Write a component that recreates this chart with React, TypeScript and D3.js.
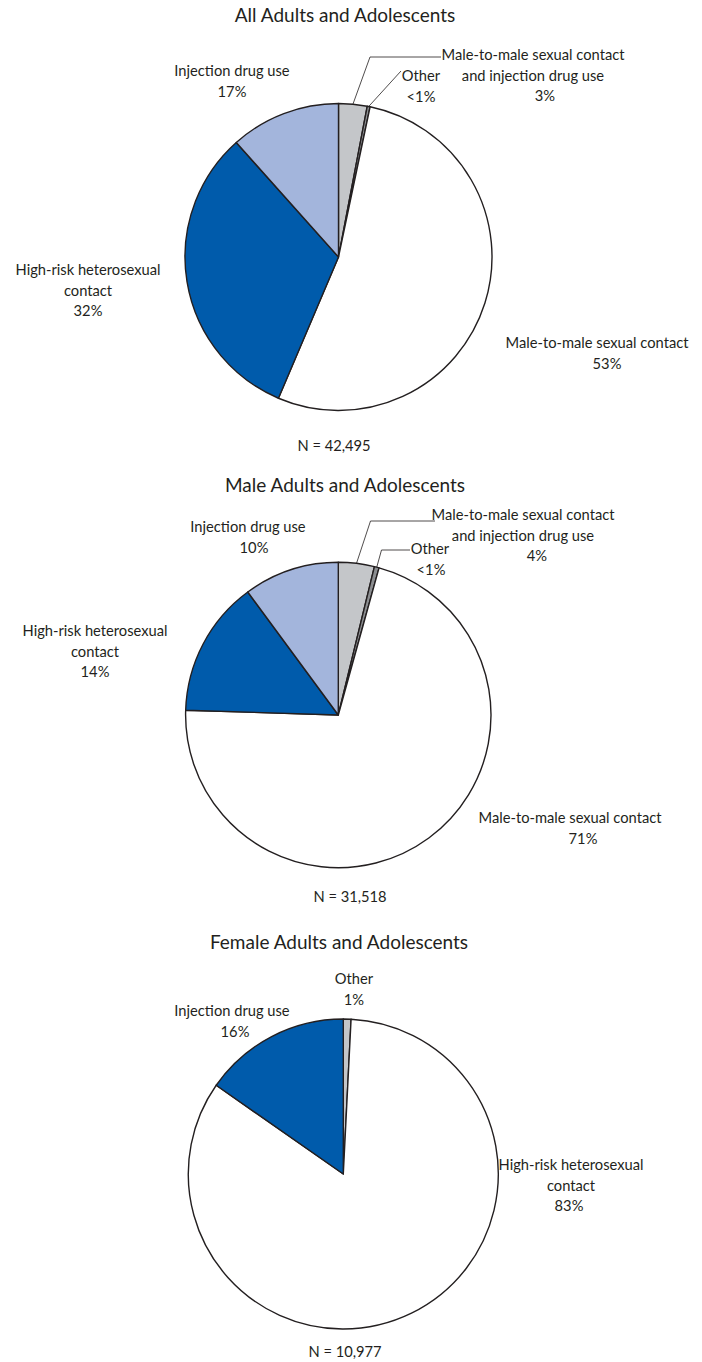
import React, { useRef, useEffect } from "react";
import * as d3 from "d3";

// slice order is clockwise from 12 o'clock
const allCategories = [
  "Male-to-male sexual contact and injection drug use",
  "Other",
  "Male-to-male sexual contact",
  "High-risk heterosexual contact",
  "Injection drug use",
];
const allValues = [3.0, 0.3, 53.1, 32.0, 11.6];
const allPct = ["3%", "<1%", "53%", "32%", "17%"];

const maleCategories = allCategories;
const maleValues = [3.8, 0.5, 71.2, 14.4, 10.1];
const malePct = ["4%", "<1%", "71%", "14%", "10%"];

const femaleCategories = ["Other", "High-risk heterosexual contact", "Injection drug use"];
const femaleValues = [0.8, 83.9, 15.3];
const femalePct = ["1%", "83%", "16%"];

const titles = ["All Adults and Adolescents", "Male Adults and Adolescents", "Female Adults and Adolescents"];
const nLabels = ["N = 42,495", "N = 31,518", "N = 10,977"];

const LIGHT_GRAY = "#c4c6c9";
const DARK_GRAY = "#8b8d90";
const BLUE = "#005bab";
const LIGHT_BLUE = "#a3b5dc";
const INK = "#231f20";
const FONT = "Lato, 'Noto Sans', sans-serif";
const LABEL_SIZE = 14.7;
const LINE_GAP = 20.5;

type Label = { lines: string[]; x: number; y: number; px?: number };
type Leader = { slice: number; pts: [number, number][] };

const pies = [
  {
    categories: allCategories, values: allValues, pct: allPct,
    colors: [LIGHT_GRAY, DARK_GRAY, "#ffffff", BLUE, LIGHT_BLUE],
    cx: 338.5, cy: 257, r: 153.5,
    title: { x: 345, y: 22 }, n: { x: 334, y: 451 },
    labels: [
      { lines: ["Male-to-male sexual contact", "and injection drug use"], x: 533, y: 60, px: 545 },
      { lines: ["Other"], x: 421, y: 81 },
      { lines: ["Male-to-male sexual contact"], x: 597, y: 348, px: 607 },
      { lines: ["High-risk heterosexual", "contact"], x: 88, y: 275 },
      { lines: ["Injection drug use"], x: 232, y: 76 },
    ] as Label[],
    leaders: [
      { slice: 0, pts: [[370, 57], [441, 57]] },
      { slice: 1, pts: [[401, 71]] },
    ] as Leader[],
  },
  {
    categories: maleCategories, values: maleValues, pct: malePct,
    colors: [LIGHT_GRAY, DARK_GRAY, "#ffffff", BLUE, LIGHT_BLUE],
    cx: 338.3, cy: 715, r: 152.7,
    title: { x: 345, y: 492 }, n: { x: 350, y: 902 },
    labels: [
      { lines: ["Male-to-male sexual contact", "and injection drug use"], x: 523, y: 520, px: 537 },
      { lines: ["Other"], x: 430, y: 554, px: 431 },
      { lines: ["Male-to-male sexual contact"], x: 570, y: 823, px: 583 },
      { lines: ["High-risk heterosexual", "contact"], x: 95, y: 636 },
      { lines: ["Injection drug use"], x: 248, y: 532, px: 254 },
    ] as Label[],
    leaders: [
      { slice: 0, pts: [[370.5, 521], [435, 521]] },
      { slice: 1, pts: [[381.5, 550], [410, 550]] },
    ] as Leader[],
  },
  {
    categories: femaleCategories, values: femaleValues, pct: femalePct,
    colors: [LIGHT_GRAY, "#ffffff", BLUE],
    cx: 343.3, cy: 1174, r: 155,
    title: { x: 339, y: 949 }, n: { x: 345, y: 1357 },
    labels: [
      { lines: ["Other"], x: 354, y: 984 },
      { lines: ["High-risk heterosexual", "contact"], x: 571, y: 1170, px: 569 },
      { lines: ["Injection drug use"], x: 232, y: 1016, px: 235 },
    ] as Label[],
    leaders: [] as Leader[],
  },
];

const App = () => {
  const canvas = useRef<HTMLDivElement>(null);
  const width = 702;
  const height = 1362;

  const drawChart = () => {
    d3.select(canvas.current).selectAll("*").remove();
    const svg = d3.select(canvas.current)
      .append("svg")
      .attr("width", width)
      .attr("height", height)
      .style("position", "absolute")
      .style("left", 0)
      .style("top", 0)
      .style("background", "#fff");

    pies.forEach((p, k) => {
      const pie = d3.pie<number>().sort(null).value((d) => d);
      const arcs = pie(p.values);
      const arc = d3.arc<d3.PieArcDatum<number>>().innerRadius(0).outerRadius(p.r);

      const g = svg.append("g").attr("transform", `translate(${p.cx},${p.cy})`);
      g.selectAll("path")
        .data(arcs)
        .enter()
        .append("path")
        .attr("d", arc)
        .attr("fill", (d, i) => p.colors[i])
        .attr("stroke", INK)
        .attr("stroke-width", 1.4)
        .attr("stroke-linejoin", "round");

      // leader lines start on the slice edge
      p.leaders.forEach((l) => {
        const a = arcs[l.slice];
        const mid = (a.startAngle + a.endAngle) / 2;
        const start: [number, number] = [p.cx + p.r * Math.sin(mid), p.cy - p.r * Math.cos(mid)];
        svg.append("path")
          .attr("d", d3.line()([start, ...l.pts]))
          .attr("fill", "none")
          .attr("stroke", INK)
          .attr("stroke-width", 0.8);
      });

      svg.append("text")
        .attr("x", p.title.x)
        .attr("y", p.title.y)
        .attr("text-anchor", "middle")
        .style("font-family", FONT)
        .style("font-size", "19px")
        .attr("fill", INK)
        .text(titles[k]);

      svg.append("text")
        .attr("x", p.n.x)
        .attr("y", p.n.y)
        .attr("text-anchor", "middle")
        .style("font-family", FONT)
        .style("font-size", LABEL_SIZE + "px")
        .attr("fill", INK)
        .text(nLabels[k]);

      p.labels.forEach((lb, i) => {
        const t = svg.append("text")
          .attr("text-anchor", "middle")
          .style("font-family", FONT)
          .style("font-size", LABEL_SIZE + "px")
          .attr("fill", INK);
        lb.lines.forEach((line, j) => {
          t.append("tspan").attr("x", lb.x).attr("y", lb.y + j * LINE_GAP).text(line);
        });
        t.append("tspan")
          .attr("x", lb.px ?? lb.x)
          .attr("y", lb.y + lb.lines.length * LINE_GAP)
          .text(p.pct[i]);
      });
    });
  };

  useEffect(() => {
    drawChart();
  });

  return <div ref={canvas}></div>;
};

export default App;
